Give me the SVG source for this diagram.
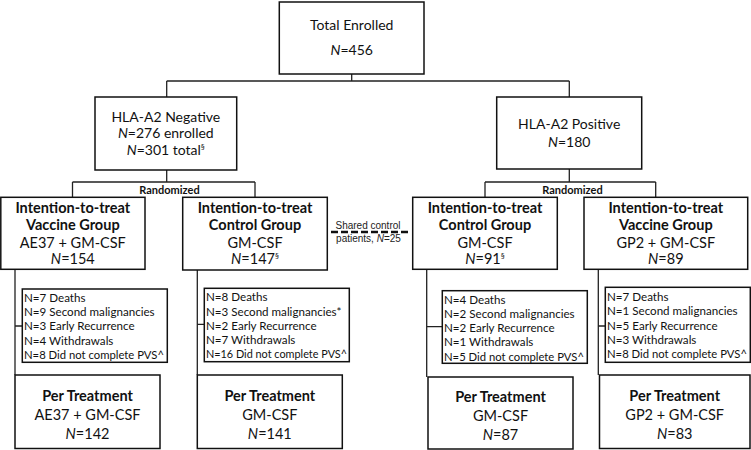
<svg xmlns="http://www.w3.org/2000/svg" width="751" height="450" viewBox="0 0 751 450">
<style>
  .box{fill:#fff;stroke:#111;stroke-width:1.5}
  .ln{fill:none;stroke:#222;stroke-width:1.3}
  text{font-family:Lato,"Open Sans","Liberation Sans",sans-serif;fill:#111}
  .t{font-size:14px;text-anchor:middle}
  .b{font-size:14.5px;font-weight:bold;text-anchor:middle}
  .r{font-size:14.5px;text-anchor:middle}
  .rand{font-size:11px;font-weight:bold;text-anchor:middle}
  .s{font-size:11.6px}
  .sh{font-family:"Liberation Sans",Arial,sans-serif;font-size:10px;text-anchor:middle;fill:#222}
  .i{font-style:italic}
  .sup{font-size:8px}
</style>
<rect width="751" height="450" fill="#fff"/>
<g id="connectors">
  <path class="ln" d="M351.7,74 V81 M166.7,81 H569.3 M166.7,81 V97 M569.3,81 V97"/>
  <path class="ln" d="M166.7,170 V182 M72.5,182 H255 M72.5,182 V197.3 M255,182 V197.3"/>
  <path class="ln" d="M569.3,169 V182 M485,182 H655.7 M485,182 V197.3 M655.7,182 V197.3"/>
  <path class="ln" d="M15,269.3 V375 M15,326 H22.3"/>
  <path class="ln" d="M197.3,270 V375 M197.3,324.3 H204.3"/>
  <path class="ln" d="M426.7,269.3 V377 M426.7,326.7 H442.3"/>
  <path class="ln" d="M598.3,269.3 V375 M598.3,326 H605.3"/>
  <path d="M331,232 H408" fill="none" stroke="#111" stroke-width="2.5" stroke-dasharray="7,3"/>
  <text class="sh" x="368" y="229">Shared control</text>
  <text class="sh" x="368.5" y="242">patients, <tspan class="i">N</tspan>=25</text>
</g>
<g id="total">
  <rect class="box" x="279.3" y="2" width="144.7" height="72"/>
  <text class="t" x="351.7" y="30">Total Enrolled</text>
  <text class="t" x="351.7" y="55"><tspan class="i">N</tspan>=456</text>
</g>
<g id="neg">
  <rect class="box" x="95" y="97" width="141.7" height="73"/>
  <text class="t" x="165.8" y="121.5">HLA-A2 Negative</text>
  <text class="t" x="165.8" y="138"><tspan class="i">N</tspan>=276 enrolled</text>
  <text class="t" x="165.8" y="155"><tspan class="i">N</tspan>=301 total<tspan class="sup" dy="-5">§</tspan></text>
</g>
<g id="pos">
  <rect class="box" x="496.7" y="97" width="145" height="72"/>
  <text class="t" x="569.2" y="129">HLA-A2 Positive</text>
  <text class="t" x="569.2" y="146.5"><tspan class="i">N</tspan>=180</text>
</g>
<g id="rand-left">
  <text class="rand" x="169.5" y="193.5">Randomized</text>
</g>
<g id="rand-right">
  <text class="rand" x="572.5" y="193.5">Randomized</text>
</g>
<g id="itt1">
  <rect class="box" x="0.8" y="197.3" width="144.2" height="72"/>
  <text class="b" x="72.8" y="212.5">Intention-to-treat</text>
  <text class="b" x="72.8" y="230">Vaccine Group</text>
  <text class="r" x="72.8" y="247.5">AE37 + GM-CSF</text>
  <text class="r" x="72.8" y="264"><tspan class="i">N</tspan>=154</text>
</g>
<g id="itt2">
  <rect class="box" x="182.7" y="197.3" width="144.6" height="72.7"/>
  <text class="b" x="255" y="212.5">Intention-to-treat</text>
  <text class="b" x="255" y="230">Control Group</text>
  <text class="r" x="255" y="247.5">GM-CSF</text>
  <text class="r" x="255" y="264"><tspan class="i">N</tspan>=147<tspan class="sup" dy="-5">§</tspan></text>
</g>
<g id="itt3">
  <rect class="box" x="412.7" y="197.3" width="144.6" height="72"/>
  <text class="b" x="485" y="212.5">Intention-to-treat</text>
  <text class="b" x="485" y="230">Control Group</text>
  <text class="r" x="485" y="247.5">GM-CSF</text>
  <text class="r" x="485" y="264"><tspan class="i">N</tspan>=91<tspan class="sup" dy="-5">§</tspan></text>
</g>
<g id="itt4">
  <rect class="box" x="584" y="197.3" width="163.7" height="72"/>
  <text class="b" x="665.8" y="212.5">Intention-to-treat</text>
  <text class="b" x="665.8" y="230">Vaccine Group</text>
  <text class="r" x="665.8" y="247.5">GP2 + GM-CSF</text>
  <text class="r" x="665.8" y="264"><tspan class="i">N</tspan>=89</text>
</g>
<g id="ex1">
  <rect class="box" x="22.3" y="289" width="145" height="73.3"/>
  <text class="s" x="24" y="301.8">N=7 Deaths</text>
  <text class="s" x="24" y="316">N=9 Second malignancies</text>
  <text class="s" x="24" y="330.3">N=3 Early Recurrence</text>
  <text class="s" x="24" y="344.6">N=4 Withdrawals</text>
  <text class="s" x="24" y="358.9" textLength="140" lengthAdjust="spacingAndGlyphs">N=8 Did not complete PVS^</text>
</g>
<g id="ex2">
  <rect class="box" x="204.3" y="288.3" width="145" height="73.4"/>
  <text class="s" x="206" y="301.3">N=8 Deaths</text>
  <text class="s" x="206" y="315.5">N=3 Second malignancies*</text>
  <text class="s" x="206" y="329.8">N=2 Early Recurrence</text>
  <text class="s" x="206" y="344.1">N=7 Withdrawals</text>
  <text class="s" x="206" y="358.4" textLength="141" lengthAdjust="spacingAndGlyphs">N=16 Did not complete PVS^</text>
</g>
<g id="ex3">
  <rect class="box" x="442.3" y="290.7" width="145" height="72.6"/>
  <text class="s" x="444" y="303.5">N=4 Deaths</text>
  <text class="s" x="444" y="317.8">N=2 Second malignancies</text>
  <text class="s" x="444" y="332.1">N=2 Early Recurrence</text>
  <text class="s" x="444" y="346.4">N=1 Withdrawals</text>
  <text class="s" x="444" y="360.5" textLength="140" lengthAdjust="spacingAndGlyphs">N=5 Did not complete PVS^</text>
</g>
<g id="ex4">
  <rect class="box" x="605.3" y="287.3" width="145" height="75"/>
  <text class="s" x="607" y="301">N=7 Deaths</text>
  <text class="s" x="607" y="315.3">N=1 Second malignancies</text>
  <text class="s" x="607" y="329.6">N=5 Early Recurrence</text>
  <text class="s" x="607" y="343.9">N=3 Withdrawals</text>
  <text class="s" x="607" y="358.2" textLength="140" lengthAdjust="spacingAndGlyphs">N=8 Did not complete PVS^</text>
</g>
<g id="pt1">
  <rect class="box" x="15" y="375" width="145" height="73.5"/>
  <text class="b" x="87.5" y="401">Per Treatment</text>
  <text class="r" x="87.5" y="420">AE37 + GM-CSF</text>
  <text class="r" x="87.5" y="439"><tspan class="i">N</tspan>=142</text>
</g>
<g id="pt2">
  <rect class="box" x="197.3" y="375" width="145" height="73.5"/>
  <text class="b" x="269.8" y="401">Per Treatment</text>
  <text class="r" x="269.8" y="420">GM-CSF</text>
  <text class="r" x="269.8" y="439"><tspan class="i">N</tspan>=141</text>
</g>
<g id="pt3">
  <rect class="box" x="428" y="377" width="145" height="72"/>
  <text class="b" x="500.5" y="402">Per Treatment</text>
  <text class="r" x="500.5" y="421">GM-CSF</text>
  <text class="r" x="500.5" y="440"><tspan class="i">N</tspan>=87</text>
</g>
<g id="pt4">
  <rect class="box" x="599.5" y="375" width="150.5" height="73.5"/>
  <text class="b" x="674.7" y="401">Per Treatment</text>
  <text class="r" x="674.7" y="420">GP2 + GM-CSF</text>
  <text class="r" x="674.7" y="439"><tspan class="i">N</tspan>=83</text>
</g>
</svg>
